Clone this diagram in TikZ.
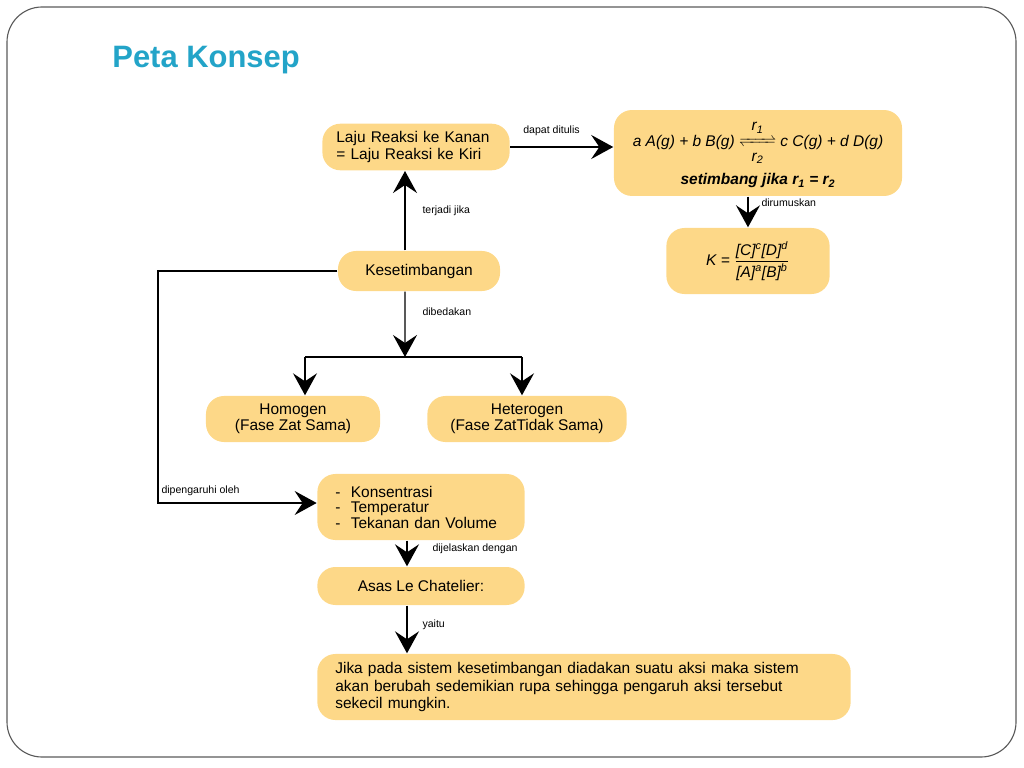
\documentclass[tikz,border=0pt]{standalone}
\usepackage{mathtools}
\usepackage{fontspec}
\setmainfont{Liberation Sans}
\usetikzlibrary{arrows.meta}
\definecolor{kuning}{RGB}{253,216,136}
\definecolor{judul}{RGB}{35,164,200}
\definecolor{bingkai}{RGB}{90,90,90}
\newcommand{\harpun}{\begin{tabular}{@{}c@{}}r\textsubscript{1}\\[-3pt]$\xrightleftharpoons{\hspace{1.8em}}$\\[-4pt]r\textsubscript{2}\end{tabular}}

\begin{document}
\begin{tikzpicture}[x=0.025cm,y=-0.025cm,->,>={Stealth[length=0.55cm,width=0.6cm,inset=0.2cm]},
                    line width=1pt, font=\fontsize{11}{11.5}\selectfont]
  \tikzstyle{kotak}=[fill=kuning, rounded corners=0.45cm, inner sep=0.2cm]
  \tikzstyle{ket}=[font=\fontsize{7.5}{8}\selectfont, inner sep=2pt]

  \useasboundingbox (0,0) rectangle (1024,768);
  \draw[-, bingkai, line width=0.8pt, rounded corners=0.875cm] (7,7) rectangle (1016,757);
  \node[anchor=west, text=judul, font=\fontsize{22}{26}\selectfont\bfseries] (judul) at (107,60) {Peta Konsep};

  \node[kotak, minimum width=4.68cm, minimum height=1.03cm, text width=3.98cm,
        inner xsep=0.35cm, align=left] (laju) at (416,147)
        {Laju Reaksi ke Kanan\\= Laju Reaksi ke Kiri};
  \node[kotak, minimum width=7.2cm, minimum height=2.08cm, align=center,
        font=\fontsize{11}{13}\selectfont\itshape] (reaksi) at (758,153)
        {a A(g) + b B(g) \harpun\ c C(g) + d D(g)\\[4pt]
         \bfseries setimbang jika r\textsubscript{1} = r\textsubscript{2}};
  \node[kotak, minimum width=4.08cm, minimum height=1.65cm, font=\fontsize{11}{12}\selectfont\itshape] (konstanta) at (748,261)
        {K = $\dfrac{\text{[C]\textsuperscript{c}[D]\textsuperscript{d}}}{\text{[A]\textsuperscript{a}[B]\textsuperscript{b}}}$};
  \node[kotak, minimum width=4.05cm, minimum height=1cm] (kstb) at (419,271) {Kesetimbangan};
  \node[kotak, minimum width=4.35cm, minimum height=0.95cm, align=center] (homo) at (293,419)
        {Homogen\\(Fase Zat Sama)};
  \node[kotak, minimum width=4.98cm, minimum height=0.95cm, align=center] (hetero) at (527,419)
        {Heterogen\\(Fase ZatTidak Sama)};
  \node[kotak, minimum width=5.18cm, minimum height=1.65cm, text width=4.28cm,
        inner xsep=0.45cm, align=left, font=\fontsize{11}{11}\selectfont] (faktor) at (421,507)
        {-\ \ Konsentrasi\\-\ \ Temperatur\\-\ \ Tekanan dan Volume};
  \node[kotak, minimum width=5.18cm, minimum height=0.95cm] (asas) at (421,586) {Asas Le Chatelier:};
  \node[kotak, minimum width=13.33cm, minimum height=1.65cm, text width=12.43cm,
        inner xsep=0.45cm, align=left, font=\fontsize{11}{12.2}\selectfont] (aksi) at (584,687)
        {Jika pada sistem kesetimbangan diadakan suatu aksi maka sistem\\
         akan berubah sedemikian rupa sehingga pengaruh aksi tersebut\\
         sekecil mungkin.};

  \coordinate (cabang) at (405,357);
  \coordinate (kiri) at (305,357);
  \coordinate (kanan) at (522,357);
  \coordinate (sudut) at (158,503);

  \path ([xshift=-0.35cm]kstb.north) edge node[ket, right, xshift=0.35cm] {terjadi jika} ([xshift=-0.35cm]kstb.north |- laju.south)
        (laju.east) edge node[ket, above, pos=0.4, yshift=0.2cm] {dapat ditulis} (laju.east -| reaksi.west)
        (konstanta.north |- reaksi.south) edge node[ket, right, pos=0.2, xshift=0.25cm] {dirumuskan} (konstanta.north)
        ([xshift=-0.35cm]kstb.south) edge node[ket, right, pos=0.3, xshift=0.35cm] {dibedakan} (cabang);
  \draw[-] (kiri) -- (kanan);
  \draw (kiri) -- (kiri |- homo.north);
  \draw (kanan) -- (kanan |- hetero.north);
  \draw (kstb.west) -| (sudut) -- node[ket, pos=0, above right, yshift=0.1cm] {dipengaruhi oleh} (sudut -| faktor.west);
  \path ([xshift=-0.35cm]faktor.south) edge node[ket, right, pos=0.3, xshift=0.55cm] {dijelaskan dengan} ([xshift=-0.35cm]asas.north)
        ([xshift=-0.35cm]asas.south) edge node[ket, right, pos=0.4, xshift=0.3cm] {yaitu} ([xshift=-0.35cm]asas.south |- aksi.north);
\end{tikzpicture}
\end{document}
